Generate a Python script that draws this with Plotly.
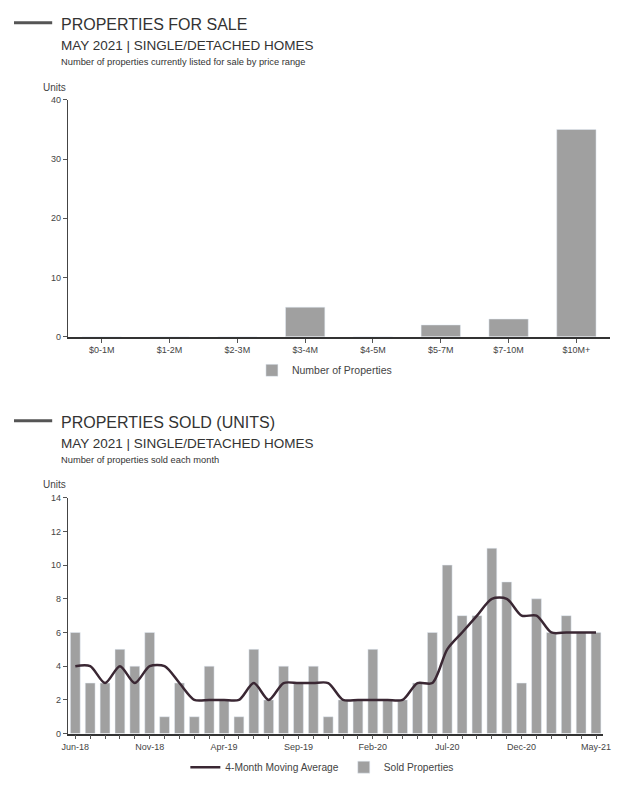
import plotly.graph_objects as go

# page body has an 8px margin; size the figure to fit inside the window
OFF = 8
W, H = 639 - 2 * OFF, 792 - 2 * OFF

# ---- data: properties for sale ----
price_ranges = ["$0-1M", "$1-2M", "$2-3M", "$3-4M", "$4-5M", "$5-7M", "$7-10M", "$10M+"]
for_sale = [0, 0, 0, 5, 0, 2, 3, 35]

# ---- data: properties sold ----
months = ["Jun-18", "Jul-18", "Aug-18", "Sep-18", "Oct-18", "Nov-18", "Dec-18",
          "Jan-19", "Feb-19", "Mar-19", "Apr-19", "May-19", "Jun-19", "Jul-19",
          "Aug-19", "Sep-19", "Oct-19", "Nov-19", "Dec-19", "Jan-20", "Feb-20",
          "Mar-20", "Apr-20", "May-20", "Jun-20", "Jul-20", "Aug-20", "Sep-20",
          "Oct-20", "Nov-20", "Dec-20", "Jan-21", "Feb-21", "Mar-21", "Apr-21", "May-21"]
sold = [6, 3, 3, 5, 4, 6, 1, 3, 1, 4, 2, 1, 5, 2, 4, 3, 4, 1, 2, 2, 5,
        2, 2, 3, 6, 10, 7, 7, 11, 9, 3, 8, 6, 7, 6, 6]
moving_avg = [4, 4, 3, 4, 3, 4, 4, 3, 2, 2, 2, 2, 3, 2, 3, 3, 3, 3, 2, 2, 2,
              2, 2, 3, 3, 5, 6, 7, 8, 8, 7, 7, 6, 6, 6, 6]
month_labels = ["Jun-18", "Nov-18", "Apr-19", "Sep-19", "Feb-20", "Jul-20", "Dec-20", "May-21"]

BAR = "#a0a0a0"
TXT = "#444444"
FONT = "Liberation Sans"


def py(p):  # reference pixel y -> paper y
    return 1 - (p - OFF) / H


def px(p):  # reference pixel x -> paper x
    return max(0.0, (p - OFF) / W)


fig = go.Figure()

fig.add_trace(go.Bar(x=price_ranges, y=for_sale, marker_color=BAR, width=0.58,
                     name="Number of Properties", xaxis="x", yaxis="y",
                     legend="legend"))
fig.add_trace(go.Bar(x=months, y=sold, marker_color=BAR, width=0.66,
                     name="Sold Properties", xaxis="x2", yaxis="y2",
                     legend="legend2", legendrank=2))
fig.add_trace(go.Scatter(x=months, y=moving_avg, mode="lines",
                         line=dict(color="#3a2733", width=2.5, shape="spline", smoothing=0.8),
                         name="4-Month Moving Average", xaxis="x2", yaxis="y2",
                         legend="legend2", legendrank=1))

tickfont = dict(family=FONT, size=9, color=TXT)

fig.update_layout(
    width=W, height=H,
    margin=dict(l=0, r=0, t=0, b=0),
    paper_bgcolor="white", plot_bgcolor="white",
    font=dict(family=FONT, color=TXT),
    xaxis=dict(domain=[px(63), px(617)], anchor="y", type="category",
               range=[-0.5, 7.5], showgrid=False, showline=True,
               linecolor="#333", linewidth=1.5, ticks="outside", ticklen=4,
               tickcolor="#555", tickfont=tickfont, fixedrange=True),
    yaxis=dict(domain=[py(336), py(96)], anchor="x", range=[0, 40], dtick=10,
               showgrid=False, zeroline=False, showline=True, linecolor="#444",
               linewidth=1, ticks="outside", ticklen=4, tickcolor="#555",
               tickfont=tickfont),
    xaxis2=dict(domain=[px(63), px(610)], anchor="y2", type="category",
                range=[-0.5, 35.5], showgrid=False, showline=True,
                linecolor="#333", linewidth=1.5, ticks="outside", ticklen=4,
                tickcolor="#555", tickfont=tickfont,
                tickmode="array", tickvals=months,
                ticktext=[m if m in month_labels else "" for m in months]),
    yaxis2=dict(domain=[py(738), py(499)], anchor="x2", range=[0, 14], dtick=2,
                showgrid=False, zeroline=False, showline=True, linecolor="#444",
                linewidth=1, ticks="outside", ticklen=4, tickcolor="#555",
                tickfont=tickfont),
    legend=dict(orientation="h", x=px(251), y=py(370), xanchor="left",
                yanchor="middle", font=dict(family=FONT, size=10.5, color=TXT),
                itemwidth=30, bgcolor="rgba(0,0,0,0)"),
    legend2=dict(orientation="h", x=px(183), y=py(772), xanchor="left",
                 yanchor="middle", font=dict(family=FONT, size=10.2, color=TXT),
                 itemwidth=30, bgcolor="rgba(0,0,0,0)", traceorder="normal"),
    showlegend=True,
)


def header(ytop, title, subtitle, note):
    fig.add_shape(type="line", xref="paper", yref="paper",
                  x0=0, x1=px(47), y0=py(ytop), y1=py(ytop),
                  line=dict(color="#555", width=3))
    fig.add_annotation(text=title, xref="paper", yref="paper", x=px(54),
                       y=py(ytop + 2), xanchor="left", yanchor="middle",
                       showarrow=False, font=dict(family=FONT, size=16, color="#333"))
    fig.add_annotation(text=subtitle, xref="paper", yref="paper", x=px(54),
                       y=py(ytop + 23), xanchor="left", yanchor="middle",
                       showarrow=False, font=dict(family=FONT, size=13.5, color="#333"))
    fig.add_annotation(text=note, xref="paper", yref="paper", x=px(54),
                       y=py(ytop + 40), xanchor="left", yanchor="middle",
                       showarrow=False, font=dict(family=FONT, size=9.3, color="#333"))


header(18, "PROPERTIES FOR SALE", "MAY 2021 | SINGLE/DETACHED HOMES",
       "Number of properties currently listed for sale by price range")
header(421, "PROPERTIES SOLD (UNITS)", "MAY 2021 | SINGLE/DETACHED HOMES",
       "Number of properties sold each month")

for ypx in (83, 486):
    fig.add_annotation(text="Units", xref="paper", yref="paper", x=px(36),
                       y=py(ypx), xanchor="left", yanchor="middle", showarrow=False,
                       font=dict(family=FONT, size=10, color=TXT))

fig.write_html("out.html")
